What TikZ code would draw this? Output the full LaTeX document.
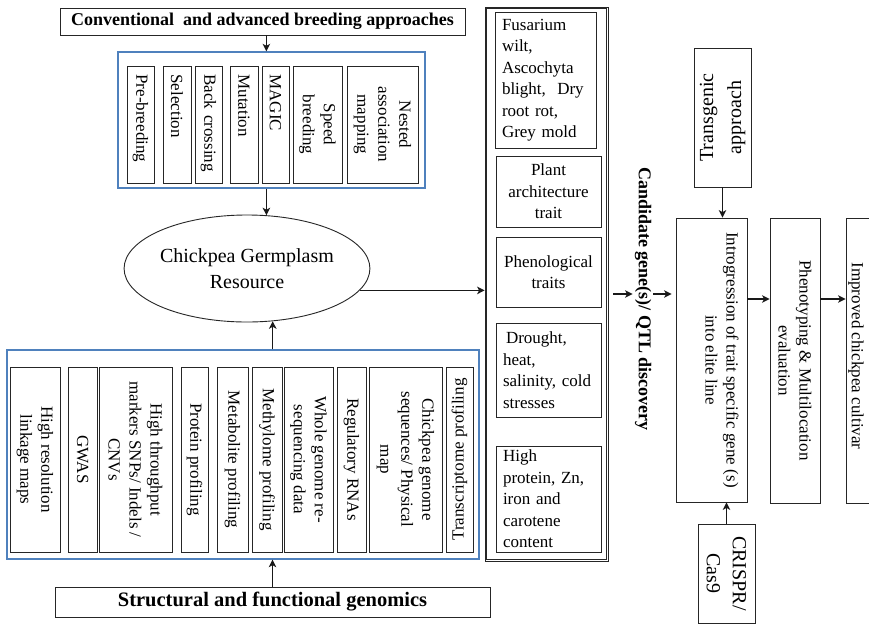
\documentclass[tikz,border=0pt]{standalone}
\usepackage{fontspec}
\setmainfont{Liberation Serif}
\usetikzlibrary{shapes.geometric,arrows.meta}
\definecolor{wblue}{HTML}{4F81BD}
\newcommand{\fsb}{\fontsize{17}{21}\selectfont}
\newcommand{\fst}{\fontsize{17}{21.5}\selectfont}
\begin{document}
\begin{tikzpicture}[x=1pt,y=-1pt,
  bx/.style={draw=black!85, line width=0.8pt, inner sep=1pt, font=\fsb},
  vr/.style 2 args={bx, rotate=-90, align=center, minimum width=#2pt, minimum height=#1pt},
  vu/.style 2 args={bx, rotate=90, align=center, minimum width=#2pt, minimum height=#1pt},
  hb/.style 2 args={bx, font=\fst, minimum width=#1pt, minimum height=#2pt},
  topl/.style={text width=100pt, align=left},
  bluebox/.style={draw=wblue, line width=1.3pt},
  arr/.style={-{Stealth[length=7.5pt,width=7.5pt,inset=2pt]}, line width=1.3pt, black!90},
]
\useasboundingbox (0,0) rectangle (869,624);
\clip (0,0) rectangle (869,624);
\fill[white] (0,0) rectangle (869,624);

% breeding
\node[bx, font=\fontsize{18}{21}\selectfont\bfseries, minimum width=405pt, minimum height=27pt] (title) at (262.5,21.5) {Conventional\ \ and advanced breeding approaches};
\node[bluebox, minimum width=307pt, minimum height=136pt] (brd) at (271.5,120) {};
\node[vr={27}{117}, topl] (pb) at (140.5,124.5) {Pre-breeding};
\node[vr={28}{117}, topl] (sel) at (177,124.5) {Selection};
\node[vr={27}{117}, topl] (bc) at (208.5,124.5) {Back crossing};
\node[vr={28}{117}, topl] (mut) at (244,124.5) {Mutation};
\node[vr={27}{117}, topl] (magic) at (275.5,124.5) {MAGIC};
\node[vr={49}{117}] (speed) at (317.5,124.5) {Speed\\ breeding};
\node[vr={71}{117}] (nam) at (382.5,124.5) {Nested\\ association\\ mapping};

% germplasm
\node[draw=black!85, line width=0.9pt, ellipse, minimum width=240pt, minimum height=107pt, inner sep=0pt, align=center, font=\fontsize{20}{26}\selectfont] (germ) at (247,268.5) {Chickpea Germplasm\\ Resource};

% genomics
\node[bluebox, minimum width=472pt, minimum height=209pt] (gen) at (243,454.5) {};
\node[vr={50}{185}] (hrl) at (35,459.5) {High resolution\\ linkage maps};
\node[vr={29}{185}] (gwas) at (82.5,459.5) {GWAS};
\node[vr={73}{185}] (htm) at (135.5,459.5) {High throughput\\ markers SNPs/ Indels /\\ CNVs};
\node[vr={27}{185}] (prot) at (194.5,459.5) {Protein profiling};
\node[vr={31}{185}] (meta) at (232.5,459.5) {Metabolite profiling};
\node[vr={30}{185}] (meth) at (267,459.5) {Methylome profiling};
\node[vr={49}{185}] (wgs) at (308.5,459.5) {Whole genome re-\\ sequencing data};
\node[vr={29}{185}] (rna) at (351.5,459.5) {Regulatory RNAs};
\node[vr={73}{185}] (cgs) at (405.5,459.5) {Chickpea genome\\ sequences/ Physical\\ map};
\node[vu={27}{185}] (tp) at (459.5,459.5) {Transcriptome profiling};
\node[bx, font=\fontsize{20.5}{24}\selectfont\bfseries, minimum width=435pt, minimum height=30pt] (sfg) at (272.5,602) {Structural and functional genomics};

% traits column (double border)
\node[draw=black!85, line width=0.8pt, minimum width=123pt, minimum height=554pt] (trc) at (546.5,284) {};
\draw[black!85, line width=0.8pt] ([shift={(2,2)}]trc.north west) rectangle ([shift={(-2,-2)}]trc.south east);
\node[hb={101}{136}, text width=87pt, align=left] (fus) at (545.5,80) {Fusarium\\ wilt,\\ Ascochyta\\ blight,\ \ Dry\\ root rot,\\ Grey mold};
\node[hb={105}{71}, align=center] (pa) at (548.5,191.5) {Plant\\ architecture\\ trait};
\node[hb={105}{70}, align=center] (phen) at (548.5,272) {Phenological\\ traits};
\node[hb={105}{94}, text width=91pt, align=left] (dr) at (548.5,370) {\hspace*{3pt}Drought,\\ heat,\\ salinity, cold\\ stresses};
\node[hb={105}{106}, text width=91pt, align=left] (hp) at (548.5,499) {High\\ protein, Zn,\\ iron and\\ carotene\\ content};

\node[rotate=-90, font=\fontsize{18}{21}\selectfont\bfseries, inner sep=2pt] (cand) at (643,299) {Candidate gene(s)/ QTL discovery};

% right side
\node[vu={57}{139}, font=\fontsize{20}{28}\selectfont] (trans) at (722.5,117.5) {Transgenic\\ approach};
\node[vr={71}{284}] (intro) at (711.5,360) {Introgression of trait specific gene (s)\\ into elite line\\ \mbox{}};
\node[vr={50}{285}] (pheno) at (795,360.5) {Phenotyping \& Multilocation\\ evaluation};
\node[vr={54}{285}] (imp) at (873,360.5) {};
\node[rotate=-90, font=\fsb, inner sep=1pt] (impt) at (856,356) {Improved chickpea cultivar};
\node[vr={57}{99}, font=\fontsize{20}{26}\selectfont] (crispr) at (726.5,573.5) {CRISPR/\\ Cas9};

% connectors
\coordinate (ay) at (0,294);
\coordinate (ay2) at (0,299);
\draw[arr] (title.south -| germ.70) -- (brd.north -| germ.70);
\draw[arr] (brd.south -| germ.70) -- (germ.70);
\draw[arr] (gen.north -| germ.-64) -- (germ.-64);
\draw[arr] (sfg.north) -- (sfg.north |- gen.south);
\draw[arr] (germ.-11) -- (germ.-11 -| trc.west);
\draw[arr, shorten <=5pt] (trc.east |- ay) -- (cand.south |- ay);
\draw[arr, shorten >=4pt] (cand.north |- ay) -- (intro.south |- ay);
\draw[arr] (intro.north |- ay2) -- (pheno.south |- ay2);
\draw[arr] (pheno.north |- ay2) -- (imp.south |- ay2);
\draw[arr] (trans.west) -- (trans.west |- intro.west);
\draw[arr] (crispr.west) -- (crispr.west |- intro.east);
\end{tikzpicture}
\end{document}
